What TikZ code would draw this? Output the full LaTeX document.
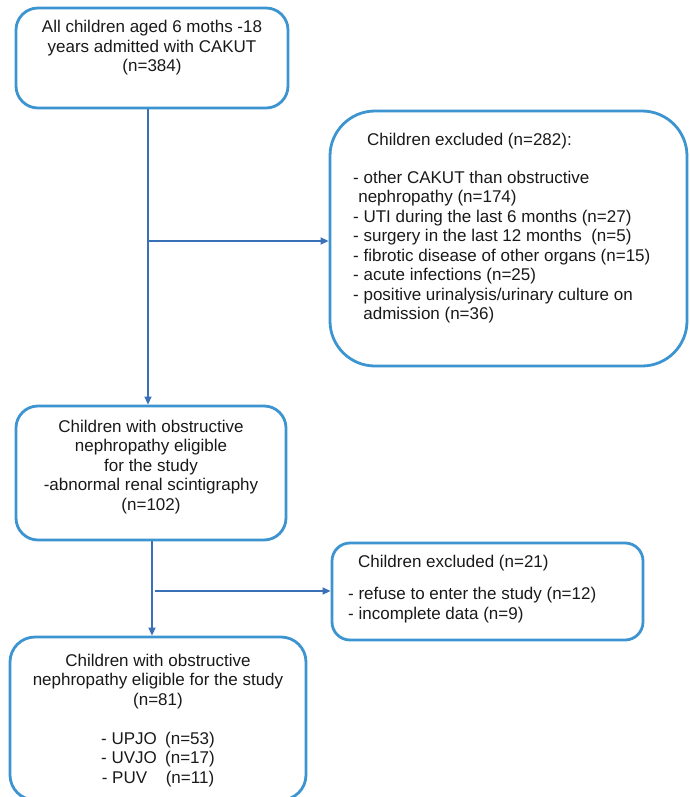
\documentclass[tikz,border=0pt]{standalone}
\usepackage{fontspec}
\setmainfont{Liberation Sans}
\usetikzlibrary{arrows.meta}
\definecolor{boxblue}{HTML}{3C94D0}
\definecolor{lineblue}{HTML}{3A70B8}
\begin{document}
\begin{tikzpicture}[x=1pt,y=-1pt,
  box/.style={draw=boxblue, line width=2.8pt, rounded corners=#1, inner sep=0pt},
  txt/.style={font=\fontsize{17}{19.5}\selectfont, inner sep=0pt, text=black!90},
  conn/.style={draw=lineblue, line width=1.4pt, -{Triangle[length=8pt,width=7pt]}}]
\useasboundingbox (0,0) rectangle (689,797);
% boxes
\node[box=22pt, minimum width=272pt, minimum height=100pt] (box1) at (152,58) {};
\node[box=45pt, minimum width=357pt, minimum height=255pt] (box2) at (508.5,238.5) {};
\node[box=22pt, minimum width=270pt, minimum height=134pt] (box3) at (151,473) {};
\node[box=18pt, minimum width=311pt, minimum height=97pt] (box4) at (487.5,591.5) {};
\node[box=25pt, minimum width=296pt, minimum height=163pt] (box5) at (158,718.5) {};
% texts
\node[txt, align=center] (t1) at (152,48) {All children aged 6 moths -18\\years admitted with CAKUT\\(n=384)};
\node[txt, anchor=west] (t2a) at (367,141) {Children excluded (n=282):};
\node[txt, anchor=west, align=left] (t2b) at (353,247) {- other CAKUT than obstructive\\\hspace*{0.3em}nephropathy (n=174)\\- UTI during the last 6 months (n=27)\\- surgery in the last 12 months \ (n=5)\\- fibrotic disease of other organs (n=15)\\- acute infections (n=25)\\- positive urinalysis/urinary culture on\\\hspace*{0.6em}admission (n=36)};
\node[txt, align=center] (t3) at (151,467) {Children with obstructive\\nephropathy eligible\\for the study\\-abnormal renal scintigraphy\\(n=102)};
\node[txt, anchor=west] (t4a) at (358,563) {Children excluded (n=21)};
\node[txt, anchor=west, align=left] (t4b) at (348,605) {- refuse to enter the study (n=12)\\- incomplete data (n=9)};
\node[txt, align=center] (t5) at (158,720.5) {Children with obstructive\\nephropathy eligible for the study\\(n=81)\\[19.5pt]\makebox[64pt][l]{- UPJO}(n=53)\\\makebox[64pt][l]{- UVJO}(n=17)\\\makebox[64pt][l]{- PUV}(n=11)};
% connectors
\coordinate (j1) at (148,241);
\coordinate (j2) at (152,591);
\coordinate (j2b) at (155,591);
\draw[conn] (j1 |- box1.south) -- (j1 |- box3.north);
\draw[conn] (j1) -- (j1 -| box2.west);
\draw[conn] (j2 |- box3.south) -- (j2 |- box5.north);
\draw[conn] (j2b) -- (j2b -| box4.west);
\end{tikzpicture}
\end{document}
